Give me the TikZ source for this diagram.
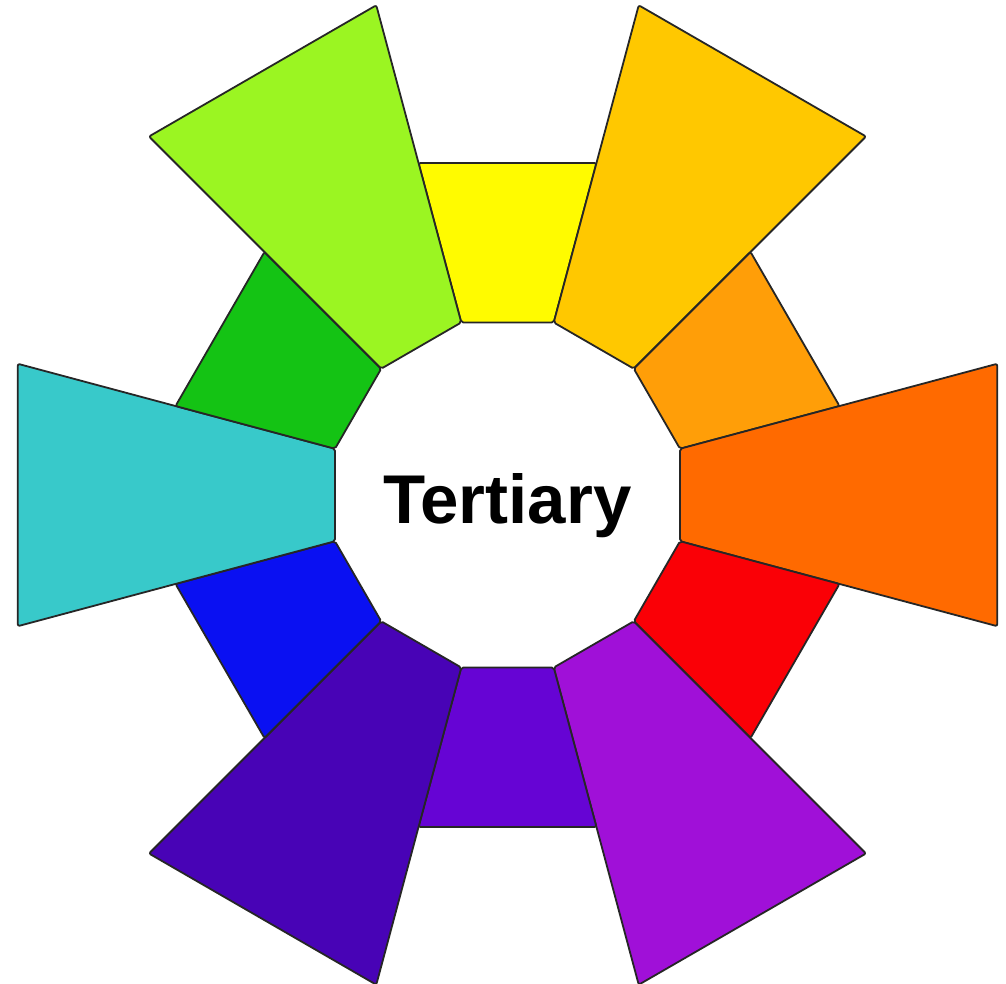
\documentclass[tikz,border=0pt]{standalone}
\usepackage{fontspec}
\setmainfont{Liberation Sans}
\definecolor{cY}{HTML}{FFFB00}
\definecolor{cYO}{HTML}{FFC800}
\definecolor{cO}{HTML}{FF9E08}
\definecolor{cRO}{HTML}{FF6A00}
\definecolor{cR}{HTML}{FA0006}
\definecolor{cRV}{HTML}{A010D8}
\definecolor{cV}{HTML}{6604D4}
\definecolor{cBV}{HTML}{4803B6}
\definecolor{cB}{HTML}{0A10F2}
\definecolor{cBG}{HTML}{38C9CA}
\definecolor{cG}{HTML}{14C314}
\definecolor{cYG}{HTML}{9BF522}
\tikzset{
  wedge/.style={draw=black!85, line width=1.8pt, rounded corners=2pt, line join=round},
  label text/.style={font=\fontsize{69}{82}\selectfont\bfseries, text=black, inner sep=0pt}
}
\begin{document}
\begin{tikzpicture}[x=1pt,y=1pt]
\useasboundingbox (0,0) rectangle (1006,984);
\fill[white] (0,0) rectangle (1006,984);
\begin{scope}[shift={(507.5,489)}]
\foreach \i/\c/\R in {0/cY/343.7, 1/cYO/507, 2/cO/343.7, 3/cRO/507, 4/cR/343.7, 5/cRV/507, 6/cV/343.7, 7/cBV/507, 8/cB/343.7, 9/cBG/507, 10/cG/343.7, 11/cYG/507}{
  \pgfmathsetmacro{\t}{90-30*\i}
  \draw[wedge, fill=\c] (\t-15:178.6) -- (\t-15:\R) -- (\t+15:\R) -- (\t+15:178.6) -- cycle;
}
\node[label text, anchor=base] (title) at (0,-29) {Tertiary};
\end{scope}
\end{tikzpicture}
\end{document}
